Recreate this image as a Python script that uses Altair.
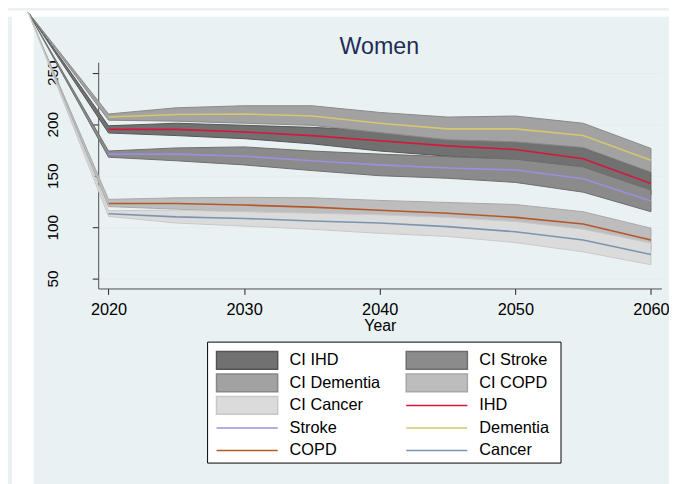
import altair as alt
import pandas as pd

# ---------------- data ----------------
years = [2020, 2025, 2030, 2035, 2040, 2045, 2050, 2055, 2060]
# all confidence bands start from one common point far above/left of the plot
band_start_year = 2014.07
band_start_value = 309

causes = ["IHD", "Stroke", "Dementia", "COPD", "Cancer"]

ihd_mean = [195, 195, 192.5, 189, 184, 179, 175.5, 166.5, 142.5]
ihd_lo = [191.5, 189, 186, 181, 174, 169, 165.5, 156, 131.5]
ihd_hi = [198.5, 201, 199, 197, 194, 189, 185.5, 177, 153.5]

stroke_mean = [171, 171, 169, 164.5, 160.5, 157.5, 155.5, 147, 125.5]
stroke_lo = [168, 164.5, 160.5, 155, 150, 147.5, 143.5, 134, 115]
stroke_hi = [174, 177, 178, 174, 171, 168.5, 166, 158.5, 136]

dementia_mean = [207, 209.5, 210, 208, 201, 195.5, 195.5, 189, 165]
dementia_lo = [204, 203, 201, 199, 192, 185, 183, 177.5, 153.5]
dementia_hi = [210, 216, 218, 218, 211.5, 207, 208, 201, 176.5]

copd_mean = [123, 123, 121.5, 119.5, 116.5, 113.5, 109.5, 103, 87.5]
copd_lo = [120, 117.5, 114.5, 111.5, 108, 103.5, 98, 91, 76.5]
copd_hi = [127, 128.5, 129, 128.5, 126, 124, 122, 115, 99]

cancer_mean = [113, 110, 108.5, 106, 104, 100.5, 95.5, 87.5, 73.5]
cancer_lo = [110.5, 104, 101, 98, 94, 91, 85, 76, 63.5]
cancer_hi = [116, 116.5, 115, 113.5, 112, 109.5, 105.5, 98, 84.5]

x_ticks = [2020, 2030, 2040, 2050, 2060]
y_ticks = [50, 100, 150, 200, 250]

legend_items = ["CI IHD", "CI Stroke", "CI Dementia", "CI COPD", "CI Cancer",
                "IHD", "Stroke", "Dementia", "COPD", "Cancer"]

# ---------------- styles ----------------
band_fill = {"IHD": "#717171", "Stroke": "#8b8b8b", "Dementia": "#a2a2a2",
             "COPD": "#bdbdbd", "Cancer": "#dbdbdb"}
band_edge = {"IHD": "#555555", "Stroke": "#6e6e6e", "Dementia": "#888888",
             "COPD": "#a8a8a8", "Cancer": "#c8c8c8"}
line_color = {"IHD": "#d5173d", "Stroke": "#9a90de", "Dementia": "#d6c66e",
              "COPD": "#b4572e", "Cancer": "#7b95b0"}

series = {
    "IHD": (ihd_mean, ihd_lo, ihd_hi),
    "Stroke": (stroke_mean, stroke_lo, stroke_hi),
    "Dementia": (dementia_mean, dementia_lo, dementia_hi),
    "COPD": (copd_mean, copd_lo, copd_hi),
    "Cancer": (cancer_mean, cancer_lo, cancer_hi),
}

PANEL = "#eaf1f3"
FONT = "Liberation Sans"
W, H = 570, 229

xscale = alt.Scale(domain=[2019.24, 2060.77], nice=False, zero=False)
yscale = alt.Scale(domain=[40.4, 260.3], nice=False, zero=False)

x_axis = alt.Axis(values=x_ticks, format="d", title="Year", grid=False,
                  tickSize=6, labelPadding=7, titlePadding=0,
                  labelFontSize=16.5, titleFontSize=16, labelFont=FONT,
                  titleFont=FONT, labelColor="black", titleColor="black",
                  titleFontWeight="normal", domainColor="#4d4d4d",
                  tickColor="#222222", labelFlush=False)
y_axis = alt.Axis(values=y_ticks, title="", grid=True, gridColor="#e3ecef",
                  gridWidth=1, tickSize=6, labelPadding=35, labelAngle=270,
                  labelAlign="center", labelBaseline="alphabetic",
                  labelFontSize=15.5, labelFont=FONT, labelColor="black",
                  domainColor="#4d4d4d", tickColor="#222222")

one = alt.Data(values=[{"k": 1}])

# white gaps between the panels (page decoration)
strip_top = alt.Chart(one).mark_rect(color="white").encode(
    x=alt.value(-91.3), x2=alt.value(577.7), y=alt.value(-52), y2=alt.value(-46))
strip_left = alt.Chart(one).mark_rect(color="white").encode(
    x=alt.value(-87.3), x2=alt.value(-65.3), y=alt.value(-52), y2=alt.value(430))
# legend frame
legend_box = alt.Chart(one).mark_rect(fill="white", stroke="black",
                                      strokeWidth=1).encode(
    x=alt.value(110.7), x2=alt.value(468.4), y=alt.value(283.3), y2=alt.value(405.7))

layers = [strip_top, strip_left, legend_box]

# confidence bands
for c in causes:
    m, lo, hi = series[c]
    df = pd.DataFrame({
        "year": [band_start_year] + years,
        "lo": [band_start_value] + lo,
        "hi": [band_start_value] + hi,
    })
    layers.append(
        alt.Chart(df).mark_area(color=band_fill[c], stroke=band_edge[c],
                                strokeWidth=1, opacity=1, clip=False).encode(
            x=alt.X("year:Q", scale=xscale, axis=x_axis),
            y=alt.Y("hi:Q", scale=yscale, axis=y_axis, stack=None),
            y2="lo:Q",
        )
    )

# mean lines
for c in causes:
    m, lo, hi = series[c]
    df = pd.DataFrame({"year": years, "mean": m})
    layers.append(
        alt.Chart(df).mark_line(color=line_color[c], strokeWidth=1.6,
                                clip=False).encode(
            x=alt.X("year:Q", scale=xscale, axis=x_axis),
            y=alt.Y("mean:Q", scale=yscale, axis=y_axis),
        )
    )

# title
title = alt.Chart(one).mark_text(text="Women", font=FONT, fontSize=23.5,
                                  color="#1e2d53", align="center",
                                  baseline="alphabetic").encode(
    x=alt.value(284.5), y=alt.value(-8.5))
layers.append(title)

# legend (driven by scales with explicit domains)
rect_path = "M-3.44,-1H3.44V1H-3.44Z"
line_path = "M-3.44,0H3.44"
legend_fill = [band_fill[c] for c in causes] + [line_color[c] for c in causes]
legend_stroke = [band_edge[c] for c in causes] + [line_color[c] for c in causes]
legend_shape = [rect_path] * 5 + [line_path] * 5

leg = alt.Legend(title="", orient="none", legendX=112.7, legendY=284.8,
                 direction="horizontal", columns=2, columnPadding=23,
                 rowPadding=-1.2, padding=7,
                 symbolSize=324, symbolOffset=21, labelOffset=33,
                 labelFontSize=16.5, labelFont=FONT, labelColor="black",
                 gridAlign="all",
                 symbolStrokeWidth=1.5, symbolOpacity=1, labelLimit=400)

legend_df = pd.DataFrame({"item": legend_items})
legend_layer = alt.Chart(legend_df).mark_point(filled=True, opacity=1).encode(
    fill=alt.Fill("item:N", scale=alt.Scale(domain=legend_items, range=legend_fill),
                  legend=leg),
    stroke=alt.Stroke("item:N", scale=alt.Scale(domain=legend_items, range=legend_stroke),
                      legend=leg),
    shape=alt.Shape("item:N", scale=alt.Scale(domain=legend_items, range=legend_shape),
                    legend=leg),
).transform_filter("false")
layers.append(legend_layer)

chart = alt.layer(*layers).properties(
    width=W, height=H,
    background=PANEL,
    autosize=alt.AutoSizeParams(type="none"),
    padding={"left": 91.3, "top": 52, "right": 7.7, "bottom": 195},
).configure_view(fill="white", stroke="transparent")

chart.save("out.html", embed_options={"renderer": "svg", "actions": False})
